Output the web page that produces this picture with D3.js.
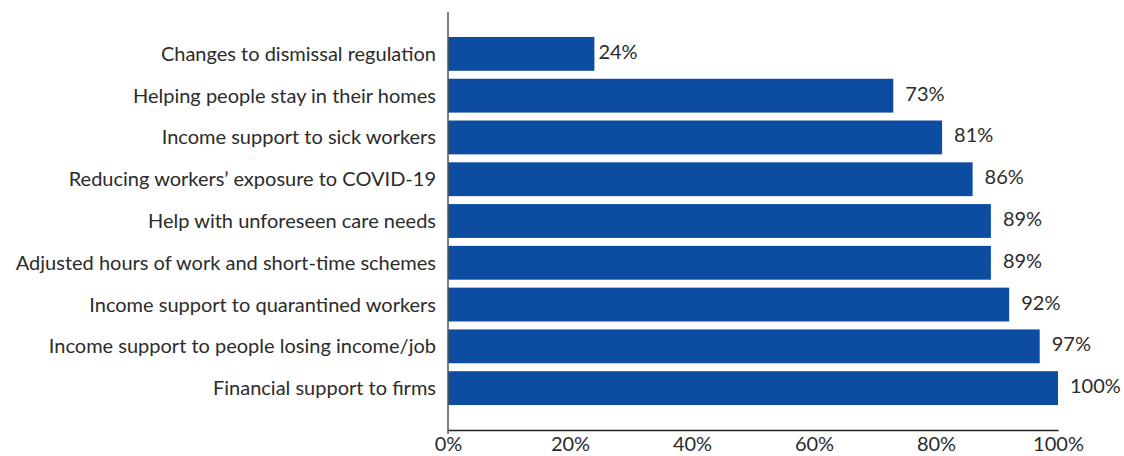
<!DOCTYPE html>
<html>
<head>
<meta charset="utf-8">
<script src="https://cdn.jsdelivr.net/npm/d3@7"></script>
<style>
  body { margin: 0; background: #fff; }
  svg { display: block; font-family: Lato, "Open Sans", sans-serif; }
</style>
</head>
<body>
<svg id="chart" width="1124" height="456"></svg>
<script>
// policy measures, top to bottom
var categories = [
    'Changes to dismissal regulation',
    'Helping people stay in their homes',
    'Income support to sick workers',
    'Reducing workers\u2019 exposure to COVID-19',
    'Help with unforeseen care needs',
    'Adjusted hours of work and short-time schemes',
    'Income support to quarantined workers',
    'Income support to people losing income/job',
    'Financial support to firms'
];
var shares = [24, 73, 81, 86, 89, 89, 92, 97, 100];
var tickValues = [0, 20, 40, 60, 80, 100];

var svg = d3.select('#chart'),
    plotLeft = 448, plotRight = 1058, plotTop = 33, plotBottom = 409, axisY = 430;

var x = d3.scaleLinear().domain([0, 100]).range([plotLeft, plotRight]);
var y = d3.scaleBand().domain(categories).range([plotTop, plotBottom])
    .paddingInner(0.19).paddingOuter(0.095);

// bars
svg.append('g').selectAll('rect')
    .data(shares)
    .enter().append('rect')
    .attr('x', x(0))
    .attr('y', (d, i) => y(categories[i]))
    .attr('width', d => x(d) - x(0))
    .attr('height', y.bandwidth())
    .attr('fill', '#0c4da2');

// value labels
svg.append('g').selectAll('text')
    .data(shares)
    .enter().append('text')
    .attr('x', d => x(d) + (d < 50 ? 4 : 12))
    .attr('y', (d, i) => y(categories[i]) + y.bandwidth() / 2 - 2)
    .attr('dy', '0.35em')
    .attr('fill', '#2b2b2b')
    .style('font-size', '20px')
    .text(d => d + '%');

// category labels
svg.append('g').selectAll('text')
    .data(categories)
    .enter().append('text')
    .attr('x', plotLeft - 12)
    .attr('y', d => y(d) + y.bandwidth() / 2)
    .attr('dy', '0.35em')
    .attr('text-anchor', 'end')
    .attr('fill', '#2b2b2b')
    .style('font-size', '20px')
    .text(d => d);

// x axis
var xAxis = svg.append('g')
    .attr('transform', 'translate(0,' + axisY + ')')
    .call(d3.axisBottom(x).tickValues(tickValues).tickSize(0).tickPadding(7)
        .tickFormat(d => d + '%'));
xAxis.select('.domain').attr('stroke', '#222').attr('stroke-width', 1.5);
xAxis.selectAll('text')
    .attr('fill', '#2b2b2b')
    .style('font-size', '20px')
    .style('font-family', 'Lato, "Open Sans", sans-serif');

// y axis line
svg.append('line')
    .attr('x1', x(0)).attr('x2', x(0))
    .attr('y1', 12).attr('y2', axisY + 4)
    .attr('stroke', '#555')
    .attr('stroke-width', 1.5);
</script>
</body>
</html>
